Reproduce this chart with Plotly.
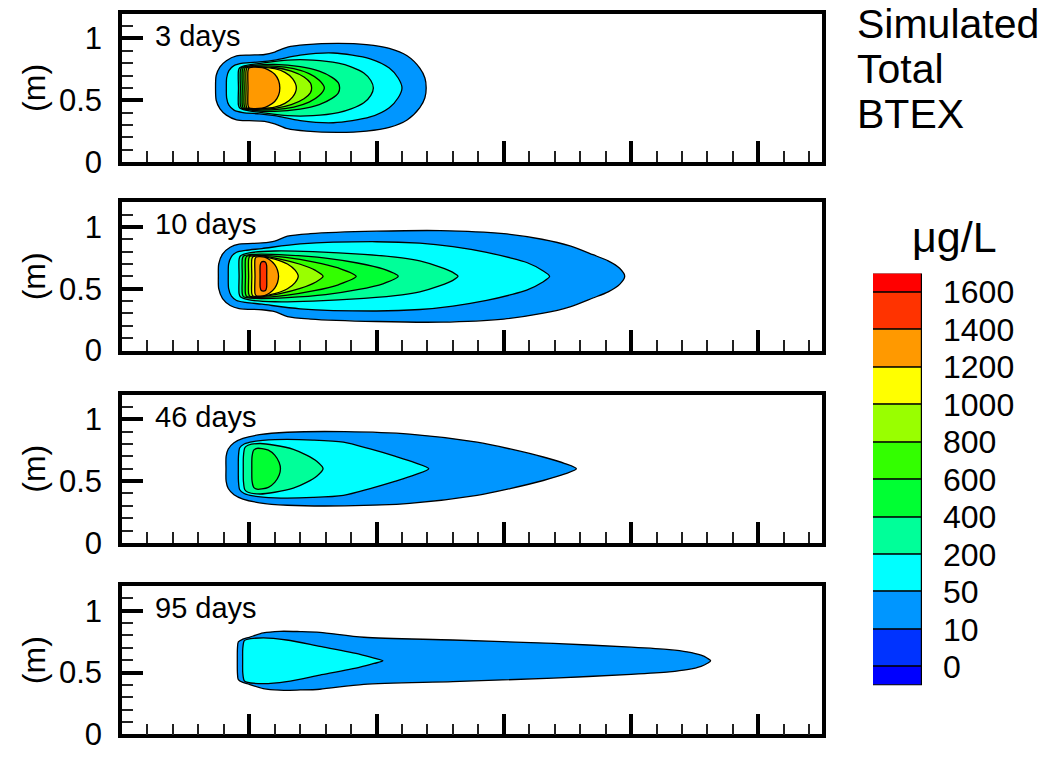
import plotly.graph_objects as go

# ---------------- data ----------------
LEVELS = [0, 10, 50, 200, 400, 600, 800, 1000, 1200, 1400, 1600]
BAND_COLORS = ['#0000FF', '#0033FF', '#0096FF', '#00FFFF', '#00FF99', '#00FF33',
               '#33FF00', '#99FF00', '#FFFF00', '#FF9900', '#FF3300', '#FF0000']
DAYS = ['3 days', '10 days', '46 days', '95 days']
CENTERS = [0.6, 0.6, 0.6, 0.595]          # plume centre line (m)
Y_TICKS = [0, 0.5, 1]
Y_TICK_TEXT = ['0', '0.5', '1']
TITLE_LINES = ['Simulated', 'Total', 'BTEX']
UNIT = 'μg/L'

# contour outlines: (x [m], half-width above centre line [m])
# --- 3 days
P1_10 = [(0.735, 0.0), (0.74, 0.10), (0.77, 0.17), (0.82, 0.22), (0.90, 0.258), (1.0, 0.265),
         (1.12, 0.27), (1.2, 0.29), (1.3, 0.33), (1.45, 0.35), (1.7, 0.36), (1.92, 0.35),
         (2.1, 0.32), (2.24, 0.26), (2.34, 0.16), (2.38, 0.08), (2.39, 0.0)]
P1_50 = [(0.82, 0.0), (0.822, 0.08), (0.84, 0.14), (0.88, 0.18), (0.95, 0.20), (1.08, 0.21),
         (1.2, 0.225), (1.4, 0.265), (1.66, 0.282), (1.95, 0.235), (2.1, 0.16), (2.17, 0.08),
         (2.2, 0.0)]
P1_200 = [(0.915, 0.0), (0.915, 0.14), (0.925, 0.163), (0.97, 0.18), (1.1, 0.2), (1.3, 0.225),
          (1.5, 0.225), (1.7, 0.2), (1.8, 0.17), (1.9, 0.12), (1.955, 0.06), (1.975, 0.0)]
P1_400 = [(0.93, 0.0), (0.93, 0.14), (0.94, 0.165), (1.0, 0.178), (1.2, 0.19), (1.4, 0.172),
          (1.55, 0.135), (1.65, 0.085), (1.70, 0.04), (1.71, 0.0)]
P1_600 = [(0.945, 0.0), (0.945, 0.14), (0.955, 0.165), (1.05, 0.175), (1.2, 0.176),
          (1.35, 0.155), (1.47, 0.115), (1.55, 0.062), (1.59, 0.0)]
P1_800 = [(0.96, 0.0), (0.96, 0.14), (0.97, 0.165), (1.08, 0.17), (1.2, 0.165), (1.33, 0.135),
          (1.43, 0.088), (1.48, 0.04), (1.49, 0.0)]
P1_1000 = [(0.975, 0.0), (0.975, 0.14), (0.985, 0.165), (1.1, 0.166), (1.2, 0.155),
           (1.28, 0.125), (1.34, 0.075), (1.37, 0.0)]
P1_1200 = [(0.99, 0.0), (0.99, 0.14), (1.0, 0.163), (1.1, 0.163), (1.15, 0.145), (1.2, 0.11),
           (1.23, 0.06), (1.24, 0.0)]
# --- 10 days
P2_10 = [(0.757, 0.0), (0.76, 0.10), (0.79, 0.18), (0.85, 0.235), (0.92, 0.26), (1.1, 0.27),
         (1.2, 0.285), (1.3, 0.325), (1.48, 0.345), (2.0, 0.365), (2.5, 0.37), (3.0, 0.345),
         (3.3, 0.3), (3.52, 0.246), (3.7, 0.175), (3.82, 0.125), (3.91, 0.065), (3.95, 0.0)]
P2_50 = [(0.835, 0.0), (0.838, 0.10), (0.86, 0.16), (0.9, 0.195), (0.97, 0.21), (1.1, 0.225),
         (1.4, 0.262), (2.0, 0.28), (2.34, 0.268), (2.6, 0.24), (2.865, 0.194), (3.05, 0.15),
         (3.18, 0.112), (3.3, 0.05), (3.36, 0.0)]
P2_200 = [(0.92, 0.0), (0.92, 0.14), (0.93, 0.165), (1.0, 0.19), (1.2, 0.205), (1.5, 0.2),
          (1.9, 0.178), (2.2, 0.15), (2.34, 0.125), (2.5, 0.075), (2.6, 0.032), (2.64, 0.0)]
P2_400 = [(0.945, 0.0), (0.945, 0.14), (0.955, 0.165), (1.05, 0.178), (1.3, 0.172),
          (1.6, 0.148), (1.85, 0.108), (2.05, 0.06), (2.17, 0.0)]
P2_600 = [(0.97, 0.0), (0.97, 0.14), (0.98, 0.163), (1.08, 0.17), (1.3, 0.152), (1.5, 0.118),
          (1.7, 0.068), (1.84, 0.0)]
P2_800 = [(0.995, 0.0), (0.995, 0.14), (1.005, 0.162), (1.1, 0.163), (1.25, 0.138), (1.4, 0.098),
          (1.52, 0.048), (1.58, 0.0)]
P2_1000 = [(1.02, 0.0), (1.02, 0.14), (1.03, 0.16), (1.1, 0.16), (1.2, 0.14), (1.3, 0.1),
           (1.36, 0.05), (1.385, 0.0)]
P2_1200 = [(1.045, 0.0), (1.045, 0.14), (1.055, 0.157), (1.12, 0.155), (1.16, 0.135),
           (1.2, 0.095), (1.222, 0.05), (1.23, 0.0)]
P2_1400 = [(1.085, 0.0), (1.086, 0.09), (1.095, 0.115), (1.11, 0.12), (1.127, 0.115),
           (1.136, 0.09), (1.137, 0.0)]
# --- 46 days
P3_10 = [(0.817, 0.0), (0.818, 0.10), (0.835, 0.16), (0.88, 0.21), (0.95, 0.245), (1.08, 0.275),
         (1.3, 0.295), (1.75, 0.3), (2.26, 0.28), (2.79, 0.215), (3.05, 0.16), (3.31, 0.095),
         (3.48, 0.042), (3.57, 0.0)]
P3_50 = [(0.914, 0.0), (0.915, 0.10), (0.925, 0.17), (0.96, 0.2), (1.03, 0.22), (1.2, 0.235),
         (1.5, 0.232), (1.74, 0.215), (1.95, 0.16), (2.15, 0.1), (2.3, 0.05), (2.41, 0.0)]
P3_200 = [(0.953, 0.0), (0.954, 0.10), (0.965, 0.17), (0.99, 0.19), (1.084, 0.204), (1.2, 0.19),
          (1.346, 0.157), (1.45, 0.11), (1.53, 0.06), (1.58, 0.0)]
P3_400 = [(1.02, 0.0), (1.022, 0.10), (1.035, 0.15), (1.06, 0.165), (1.1, 0.163), (1.15, 0.15),
          (1.2, 0.11), (1.235, 0.05), (1.245, 0.0)]
# --- 95 days
P4_10 = [(0.906, 0.0), (0.907, 0.10), (0.914, 0.152), (0.95, 0.175), (1.0, 0.19), (1.11, 0.225),
         (1.24, 0.238), (1.4, 0.236), (1.555, 0.23), (1.9, 0.19), (2.6, 0.168), (3.39, 0.14),
         (4.0, 0.11), (4.3, 0.09), (4.44, 0.072), (4.55, 0.045), (4.6, 0.02), (4.625, 0.0)]
P4_50 = [(0.948, 0.0), (0.949, 0.10), (0.96, 0.16), (0.98, 0.172), (1.11, 0.185), (1.294, 0.168),
         (1.555, 0.116), (1.87, 0.052), (1.98, 0.022), (2.05, 0.0)]

PANEL_CONTOURS = [
    [(10, P1_10), (50, P1_50), (200, P1_200), (400, P1_400), (600, P1_600), (800, P1_800),
     (1000, P1_1000), (1200, P1_1200)],
    [(10, P2_10), (50, P2_50), (200, P2_200), (400, P2_400), (600, P2_600), (800, P2_800),
     (1000, P2_1000), (1200, P2_1200), (1400, P2_1400)],
    [(10, P3_10), (50, P3_50), (200, P3_200), (400, P3_400)],
    [(10, P4_10), (50, P4_50)],
]

# ---------------- layout geometry (pixels) ----------------
W, H = 1064, 768
FONT = 'Liberation Sans, Arial, Helvetica, sans-serif'
PX_LEFT, PX_RIGHT = 122, 822
PX_TOPS = [14, 207, 404, 600]
PX_BOTS = [166, 359, 556, 752]
CB_LEFT, CB_RIGHT, CB_TOP, CB_BOT = 873, 922, 280, 702


def fx(px):
    return px / W


def fy(py):
    return (H - py) / H


fig = go.Figure()

for k, contours in enumerate(PANEL_CONTOURS):
    ax = '' if k == 0 else str(k + 1)
    c = CENTERS[k]
    for level, outline in contours:
        color = BAND_COLORS[LEVELS.index(level) + 1]
        upper = [(x, c + h) for x, h in outline]
        lower = [(x, c - h) for x, h in reversed(outline[1:-1])]
        pts = upper + lower + [upper[0]]
        fig.add_trace(go.Scatter(
            x=[p[0] for p in pts], y=[p[1] for p in pts],
            mode='lines', fill='toself', fillcolor=color,
            line=dict(color='black', width=1.3, shape='spline', smoothing=0.8),
            hoverinfo='skip', showlegend=False,
            xaxis='x' + ax, yaxis='y' + ax))

# colour bar drawn as stacked bars
bases, heights = [], []
n = len(LEVELS)
for j in range(n + 1):
    lo = -0.5 if j == 0 else j - 1
    hi = n - 0.5 if j == n else j
    bases.append(lo)
    heights.append(hi - lo)
fig.add_trace(go.Bar(x=[0] * (n + 1), y=heights, base=bases, width=1,
                     marker=dict(color=BAND_COLORS, line=dict(color='black', width=1.2)),
                     hoverinfo='skip', showlegend=False, xaxis='x5', yaxis='y5'))

layout = dict(width=W, height=H, autosize=False, margin=dict(l=0, r=0, t=0, b=0, pad=0),
              paper_bgcolor='white', plot_bgcolor='white',
              font=dict(family=FONT, color='black'), showlegend=False,
              bargap=0)

annotations = []
for k in range(4):
    ax = '' if k == 0 else str(k + 1)
    xkey = 'xaxis' + ax
    ykey = 'yaxis' + ax
    layout[xkey] = dict(domain=[fx(PX_LEFT), fx(PX_RIGHT)], range=[0, 5.5], anchor='y' + ax,
                        showgrid=False, zeroline=False, showline=True, linecolor='black',
                        linewidth=3.5, mirror=True, ticks='inside', ticklen=21, tickwidth=3.5,
                        tickcolor='black', tick0=0, dtick=1, showticklabels=False,
                        minor=dict(ticks='inside', tick0=0, dtick=0.2, ticklen=11, tickwidth=1.5,
                                   tickcolor='#222222', showgrid=False),
                        fixedrange=True)
    layout[ykey] = dict(domain=[fy(PX_BOTS[k]), fy(PX_TOPS[k])], range=[0, 1.2], anchor='x' + ax,
                        showgrid=False, zeroline=False, showline=True, linecolor='black',
                        linewidth=3.5, mirror=True, ticks='inside', ticklen=21, tickwidth=3.5,
                        tickcolor='black', tickmode='array', tickvals=Y_TICKS, ticktext=Y_TICK_TEXT,
                        tickfont=dict(size=31, family=FONT, color='black'), ticklabelstandoff=10,
                        minor=dict(ticks='inside', tick0=0, dtick=0.1, ticklen=11, tickwidth=1.5,
                                   tickcolor='#222222', showgrid=False),
                        fixedrange=True)
    annotations.append(dict(text=DAYS[k], xref='x' + ax, yref='y' + ax, x=0.24, y=1.02,
                            xanchor='left', yanchor='middle', showarrow=False,
                            font=dict(size=29, family=FONT, color='black')))
    annotations.append(dict(text='(m)', xref='paper', yref='y' + ax + ' domain', x=fx(34), y=0.5,
                            xanchor='center', yanchor='middle', textangle=-90, showarrow=False,
                            font=dict(size=32, family=FONT, color='black')))

layout['xaxis5'] = dict(domain=[fx(CB_LEFT), fx(CB_RIGHT)], range=[-0.5, 0.5], anchor='y5',
                        showgrid=False, zeroline=False, showline=False, showticklabels=False,
                        ticks='', fixedrange=True)
layout['yaxis5'] = dict(domain=[fy(CB_BOT), fy(CB_TOP)], range=[-0.5, n - 0.5], anchor='x5',
                        side='right', showgrid=False, zeroline=False, showline=False, ticks='',
                        tickmode='array', tickvals=list(range(n)), ticktext=[str(v) for v in LEVELS],
                        tickfont=dict(size=32, family=FONT, color='black'), ticklabelstandoff=20,
                        fixedrange=True)

for i, line in enumerate(TITLE_LINES):
    annotations.append(dict(text=line, xref='paper', yref='paper', x=fx(856), y=fy(25 + 46 * i),
                            xanchor='left', yanchor='middle', showarrow=False, borderpad=0,
                            font=dict(size=41, family=FONT, color='black')))
annotations.append(dict(text=UNIT, xref='paper', yref='paper', x=fx(954), y=fy(243),
                        xanchor='center', yanchor='middle', showarrow=False,
                        font=dict(size=43, family=FONT, color='black')))
layout['annotations'] = annotations

fig.update_layout(**layout)
fig.write_html('out.html', config={'responsive': False})
